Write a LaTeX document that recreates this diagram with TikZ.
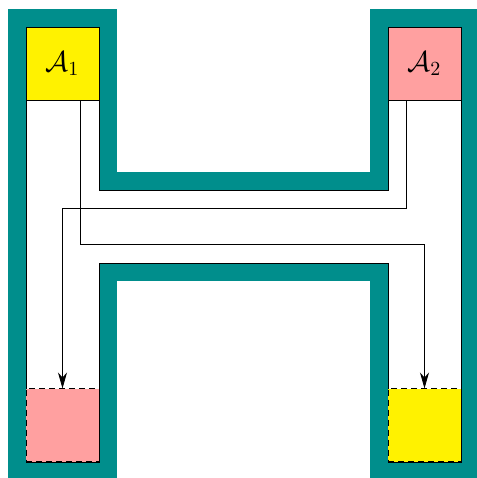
\documentclass[tikz,border=0pt]{standalone}
\usetikzlibrary{arrows.meta,calc}
\definecolor{tealH}{RGB}{0,142,140}
\definecolor{pinkH}{RGB}{255,160,160}
\tikzset{
  cell/.style={draw=black, line width=0.5pt, minimum width=36.5pt, minimum height=36.5pt, inner sep=0pt, outer sep=0pt, anchor=center, font=\Large},
  ghost/.style={cell, dashed, dash pattern=on 3pt off 2pt},
  arr/.style={draw=black, line width=0.45pt, -{Stealth[length=8pt,width=4.5pt,inset=2.5pt]}}
}
\begin{document}
\begin{tikzpicture}[x=0.5pt,y=-0.5pt]
\useasboundingbox (0,0) rectangle (477,478);
\def\Hshape{(26,27) -- (99,27) -- (99,190) -- (388,190) -- (388,27) -- (461,27) -- (461,462) -- (388,462) -- (388,263) -- (99,263) -- (99,462) -- (26,462) -- cycle}
\draw[tealH, line width=18pt, line join=miter] \Hshape;
\draw[black, line width=0.5pt, fill=white] \Hshape;
\node[cell, fill=yellow] (A1) at (62.5,63.5) {$\mathcal{A}_1$};
\node[cell, fill=pinkH] (A2) at (424.5,63.5) {$\mathcal{A}_2$};
\node[ghost, fill=pinkH] (B1) at (62.5,425) {};
\node[ghost, fill=yellow] (B2) at (424.5,425) {};
\draw[arr] ($(A1.south west)!0.75!(A1.south east)$) -- ++(0,144) -| (B2.north);
\draw[arr] ($(A2.south west)!0.25!(A2.south east)$) -- ++(0,108) -| (B1.north);
\end{tikzpicture}
\end{document}
